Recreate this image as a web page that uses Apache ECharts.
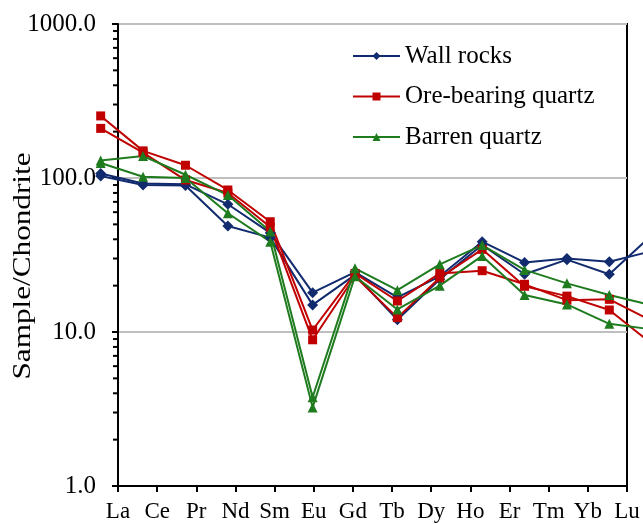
<!DOCTYPE html>
<html>
<head>
<meta charset="utf-8">
<script src="https://cdn.jsdelivr.net/npm/echarts@6/dist/echarts.min.js"></script>
<style>
html, body { margin: 0; padding: 0; background: #fff; overflow: hidden; }
#chart { width: 680px; height: 524px; }
</style>
</head>
<body>
<div id="chart"></div>
<script>
// Chondrite-normalised REE patterns
const elements = ['La', 'Ce', 'Pr', 'Nd', 'Sm', 'Eu', 'Gd', 'Tb', 'Dy', 'Ho', 'Er', 'Tm', 'Yb', 'Lu'];

// two samples per group
const wallRocksA     = [107, 92, 91, 67.5, 44, 18, 24.5, 16.8, 23, 38.6, 28.3, 30.0, 28.6, 33.5];
const wallRocksB     = [103, 90, 89.5, 48.8, 41, 15, 23.5, 12.0, 22, 36.7, 23.7, 29.5, 23.7, 42.5];
const oreQuartzA     = [253, 150, 121, 83.6, 52, 10.3, 24, 15.9, 24, 25, 20.4, 16.1, 16.3, 11.8];
const oreQuartzB     = [210, 146, 97, 80, 48, 8.9, 23, 12.4, 22.5, 34.4, 19.8, 17.1, 13.9, 8.4];
const barrenQuartzA  = [130, 139, 105, 77.5, 45, 3.77, 25.9, 18.7, 27.5, 36.7, 25.3, 20.7, 17.4, 14.9];
const barrenQuartzB  = [125, 102, 100, 59, 38.6, 3.24, 23, 14.0, 20, 31.2, 17.4, 15.1, 11.3, 10.4];

const groupNames = ['Wall rocks', 'Ore-bearing quartz', 'Barren quartz'];

// log-axis minor tick values (2..9 per decade)
const minorTicks = [2, 3, 4, 5, 6, 7, 8, 9, 20, 30, 40, 50, 60, 70, 80, 90, 200, 300, 400, 500, 600, 700, 800, 900];

const FONT = '"Liberation Serif", "Times New Roman", serif';
const BLUE = '#112B6E';
const RED = '#C00000';
const GREEN = '#1E7B1E';

function lineSeries(name, values, color, symbol, size) {
  return {
    type: 'line',
    name: name,
    xAxisIndex: 1,
    yAxisIndex: 1,
    data: values,
    symbol: symbol,
    symbolSize: size,
    clip: false,
    lineStyle: { color: color, width: 2 },
    itemStyle: { color: color, borderWidth: 0 },
    emphasis: { disabled: true }
  };
}

const chart = echarts.init(document.getElementById('chart'), null, { renderer: 'canvas' });

chart.setOption({
  animation: false,
  backgroundColor: '#fff',
  textStyle: { fontFamily: FONT },
  grid: [
    // framed plotting box carrying the visible axes
    { left: 118, right: 53, top: 24, bottom: 38, show: true, borderColor: '#000', borderWidth: 2, backgroundColor: 'transparent' },
    // box in which the sample lines are laid out
    { left: 100.7, top: 24, width: 551, height: 462 }
  ],
  xAxis: [
    {
      gridIndex: 0, type: 'category', data: elements, boundaryGap: false,
      axisLine: { lineStyle: { color: '#000', width: 2 } },
      axisTick: { length: 6, lineStyle: { color: '#000', width: 2 } },
      axisLabel: { color: '#000', fontFamily: FONT, fontSize: 23, margin: 14, interval: 0 },
      splitLine: { show: false }
    },
    { gridIndex: 1, type: 'category', data: elements, boundaryGap: false, show: false }
  ],
  yAxis: [
    {
      gridIndex: 0, type: 'log', logBase: 10, min: 1, max: 1000,
      axisLine: { show: true, lineStyle: { color: '#000', width: 2 } },
      axisTick: { show: true, length: 6, lineStyle: { color: '#000', width: 2 } },
      axisLabel: { color: '#000', fontFamily: FONT, fontSize: 25, margin: 22, formatter: v => Number(v).toFixed(1) },
      splitLine: { show: true, lineStyle: { color: '#BFBFBF', width: 2 } }
    },
    { gridIndex: 1, type: 'log', logBase: 10, min: 1, max: 1000, show: false }
  ],
  legend: {
    orient: 'vertical',
    left: 347,
    top: 38.5,
    padding: 5,
    itemWidth: 47,
    itemHeight: 10,
    itemGap: 15.5,
    data: groupNames,
    textStyle: { fontFamily: FONT, fontSize: 25, color: '#000', lineHeight: 25 }
  },
  graphic: [
    {
      type: 'text', x: 23, y: 266, rotation: Math.PI / 2, scaleX: 1.2,
      style: { text: 'Sample/Chondrite', font: '26px ' + FONT, fill: '#000', align: 'center', verticalAlign: 'middle' }
    }
  ],
  series: [
    {
      type: 'custom',
      xAxisIndex: 0,
      yAxisIndex: 0,
      silent: true,
      data: minorTicks.map(v => [0, v]),
      renderItem: function (params, api) {
        const p = api.coord([0, api.value(1)]);
        return {
          type: 'line',
          shape: { x1: p[0] - 5, y1: p[1], x2: p[0], y2: p[1] },
          style: { stroke: '#000', lineWidth: 2 }
        };
      }
    },
    lineSeries(groupNames[0], wallRocksA, BLUE, 'diamond', 11),
    lineSeries(groupNames[0], wallRocksB, BLUE, 'diamond', 11),
    lineSeries(groupNames[1], oreQuartzA, RED, 'rect', 9),
    lineSeries(groupNames[1], oreQuartzB, RED, 'rect', 9),
    lineSeries(groupNames[2], barrenQuartzA, GREEN, 'triangle', 10),
    lineSeries(groupNames[2], barrenQuartzB, GREEN, 'triangle', 10)
  ]
});
</script>
</body>
</html>
